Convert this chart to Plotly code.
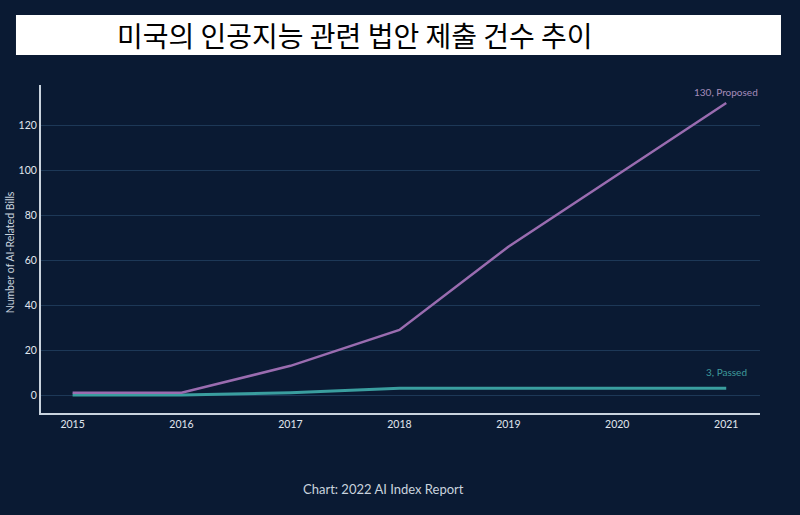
import plotly.graph_objects as go

years = [2015, 2016, 2017, 2018, 2019, 2020, 2021]
proposed = [1, 1, 13, 29, 66, 98, 130]
passed = [0, 0, 1, 3, 3, 3, 3]
y_ticks = [0, 20, 40, 60, 80, 100, 120]

bg = "#0a1a33"
purple = "#9a6cb0"
teal = "#3a9e9f"
light = "#c9d3de"

fig = go.Figure()

fig.add_trace(go.Scatter(
    x=years, y=passed, mode="lines", name="Passed",
    line=dict(color=teal, width=3),
))
fig.add_trace(go.Scatter(
    x=years, y=proposed, mode="lines", name="Proposed",
    line=dict(color=purple, width=2.5),
))

fig.add_annotation(x=years[-1], y=proposed[-1], text=f"{proposed[-1]}, Proposed",
                   showarrow=False, yanchor="bottom", yshift=3,
                   font=dict(size=10, color="#a58cbb", family="Lato"))
fig.add_annotation(x=years[-1], y=passed[-1], text=f"{passed[-1]}, Passed",
                   showarrow=False, yanchor="bottom", yshift=8,
                   font=dict(size=10, color="#3f9a9c", family="Lato"))

# white title box
fig.add_shape(type="rect", xref="paper", yref="paper",
              x0=-0.0348, x1=1.0292, y0=1.0915, y1=1.2134,
              fillcolor="white", line=dict(width=0), layer="above")
fig.add_annotation(xref="paper", yref="paper", x=0.103, y=1.1524,
                   xanchor="left", yanchor="middle", showarrow=False,
                   text="미국의 인공지능 관련 법안 제출 건수 추이",
                   font=dict(size=28, color="black", family="Noto Sans CJK KR"))

# y axis title
fig.add_annotation(xref="paper", yref="paper", x=-0.0431, y=0.49,
                   xanchor="center", yanchor="middle",
                   textangle=-90, showarrow=False,
                   text="Number of AI-Related Bills",
                   font=dict(size=10.5, color=light, family="Lato"))

fig.add_annotation(xref="paper", yref="paper", x=0.4757, y=-0.262,
                   showarrow=False, text="Chart: 2022 AI Index Report",
                   font=dict(size=13, color=light, family="Lato"))

fig.update_xaxes(
    range=[2014.71, 2021.31], tickvals=years, showgrid=False, zeroline=False,
    showline=True, linecolor=light, linewidth=2, automargin=False,
    tickfont=dict(size=10.5, color="#e0e6ee", family="Lato"), ticks="",
)
fig.update_yaxes(
    range=[-8, 138], tickvals=y_ticks, showgrid=True, gridcolor="#1d3857",
    gridwidth=1, zeroline=False, showline=True, linecolor=light, linewidth=2,
    automargin=False,
    tickfont=dict(size=10.5, color="#e0e6ee", family="Lato"), ticks="",
)

fig.update_layout(
    width=800, height=515,
    paper_bgcolor=bg, plot_bgcolor=bg,
    margin=dict(l=41, r=40, t=85, b=102),
    showlegend=False,
)

fig.write_html("out.html", config={"displayModeBar": False},
               post_script="document.body.style.margin='0';")
